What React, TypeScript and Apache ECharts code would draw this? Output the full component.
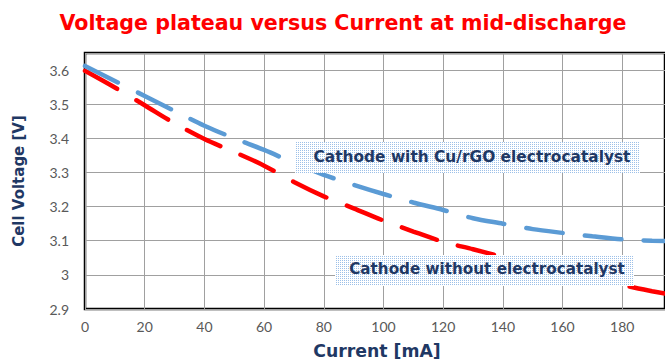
import React, { useEffect, useRef } from "react";
import * as echarts from "echarts";

const currentMA = [0, 10, 20, 30, 40, 50, 60, 70, 80, 90, 100, 110, 120, 130, 140, 150, 160, 170, 180, 190, 200];
const withCatalyst = [3.612, 3.568, 3.524, 3.48, 3.437, 3.4, 3.366, 3.328, 3.293, 3.264, 3.237, 3.212, 3.19, 3.166, 3.15, 3.134, 3.123, 3.113, 3.104, 3.1, 3.098];
const withoutCatalyst = [3.598, 3.549, 3.497, 3.444, 3.398, 3.36, 3.32, 3.272, 3.23, 3.195, 3.159, 3.127, 3.097, 3.075, 3.052, 3.03, 3.008, 2.988, 2.97, 2.952, 2.937];
const seriesNames = ["Cathode with Cu/rGO electrocatalyst", "Cathode without electrocatalyst"];
const titleText = "Voltage plateau versus Current at mid-discharge";
const xName = "Current [mA]";
const yName = "Cell Voltage [V]";

const HEAD = "'DejaVu Sans'";

function makePattern(): HTMLCanvasElement {
  const c = document.createElement("canvas");
  c.width = 2;
  c.height = 2;
  const ctx = c.getContext("2d")!;
  ctx.fillStyle = "#ffffff";
  ctx.fillRect(0, 0, 2, 2);
  ctx.fillStyle = "#9dc0e8";
  ctx.fillRect(0, 0, 1, 1);
  return c;
}

export default function App() {
  const ref = useRef<HTMLDivElement>(null);
  useEffect(() => {
    const chart = echarts.init(ref.current!, null, { renderer: "svg" });
    const pattern = { image: makePattern(), repeat: "repeat" };
    const toPairs = (ys: number[]) => currentMA.map((x, i) => [x, ys[i]]);
    chart.setOption({
      animation: false,
      backgroundColor: "#ffffff",
      grid: {
        left: 85,
        top: 53,
        width: 583,
        height: 256,
        show: true,
        borderColor: "#000",
        borderWidth: 2.5,
        containLabel: false,
      },
      xAxis: {
        type: "value",
        min: 0,
        max: 194.33,
        interval: 20,
        axisLine: { show: false },
        axisTick: { show: false },
        splitLine: { show: true, lineStyle: { color: "#a0a0a0", width: 1 } },
        axisLabel: {
          color: "#595959",
          fontFamily: "Lato",
          fontSize: 14,
          margin: 10,
          showMaxLabel: false,
          formatter: (v: number) => (v > 190 ? "" : String(v)),
        },
      },
      yAxis: {
        type: "value",
        min: 2.9,
        max: 3.65,
        interval: 0.1,
        axisLine: { show: false },
        axisTick: { show: false },
        splitLine: { show: true, lineStyle: { color: "#a0a0a0", width: 1 } },
        axisLabel: {
          color: "#595959",
          fontFamily: "Lato",
          fontSize: 14,
          margin: 16,
          showMaxLabel: false,
          formatter: (v: number) => (v > 3.62 ? "" : String(Math.round(v * 10) / 10)),
        },
      },
      series: [
        {
          name: seriesNames[0],
          type: "line",
          data: toPairs(withCatalyst),
          showSymbol: false,
          smooth: 0.3,
          lineStyle: { color: "#5b9bd5", width: 4.5, type: [37, 22], cap: "round" },
          z: 3,
        },
        {
          name: seriesNames[1],
          type: "line",
          data: toPairs(withoutCatalyst),
          showSymbol: false,
          smooth: 0.3,
          lineStyle: { color: "#ff0000", width: 4.5, type: [37, 22], cap: "round" },
          z: 2,
        },
      ],
      graphic: [
        {
          type: "text",
          x: 343,
          y: 23,
          z: 100,
          style: {
            text: titleText,
            fill: "#ff0000",
            font: `bold 20.6px ${HEAD}`,
            align: "center",
            verticalAlign: "middle",
          },
        },
        {
          type: "text",
          x: 377,
          y: 351,
          z: 100,
          style: {
            text: xName,
            fill: "#1f3864",
            font: `bold 17.3px ${HEAD}`,
            align: "center",
            verticalAlign: "middle",
          },
        },
        {
          type: "text",
          x: 19,
          y: 181,
          rotation: Math.PI / 2,
          z: 100,
          style: {
            text: yName,
            fill: "#1f3864",
            font: `bold 15px ${HEAD}`,
            align: "center",
            verticalAlign: "middle",
          },
        },
        {
          type: "rect",
          z: 100,
          shape: { x: 295, y: 142, width: 345, height: 31 },
          style: { fill: pattern, stroke: null },
        },
        {
          type: "text",
          x: 472,
          y: 157,
          z: 101,
          style: {
            text: seriesNames[0],
            fill: "#1f3864",
            font: `bold 15.4px ${HEAD}`,
            align: "center",
            verticalAlign: "middle",
          },
        },
        {
          type: "rect",
          z: 100,
          shape: { x: 335, y: 255, width: 299, height: 31 },
          style: { fill: pattern, stroke: null },
        },
        {
          type: "text",
          x: 487,
          y: 269,
          z: 101,
          style: {
            text: seriesNames[1],
            fill: "#1f3864",
            font: `bold 15.2px ${HEAD}`,
            align: "center",
            verticalAlign: "middle",
          },
        },
      ],
    });
    return () => chart.dispose();
  }, []);
  return (
    <div
      ref={ref}
      style={{ position: "fixed", left: 0, top: 0, width: 665, height: 360, overflow: "hidden" }}
    />
  );
}
